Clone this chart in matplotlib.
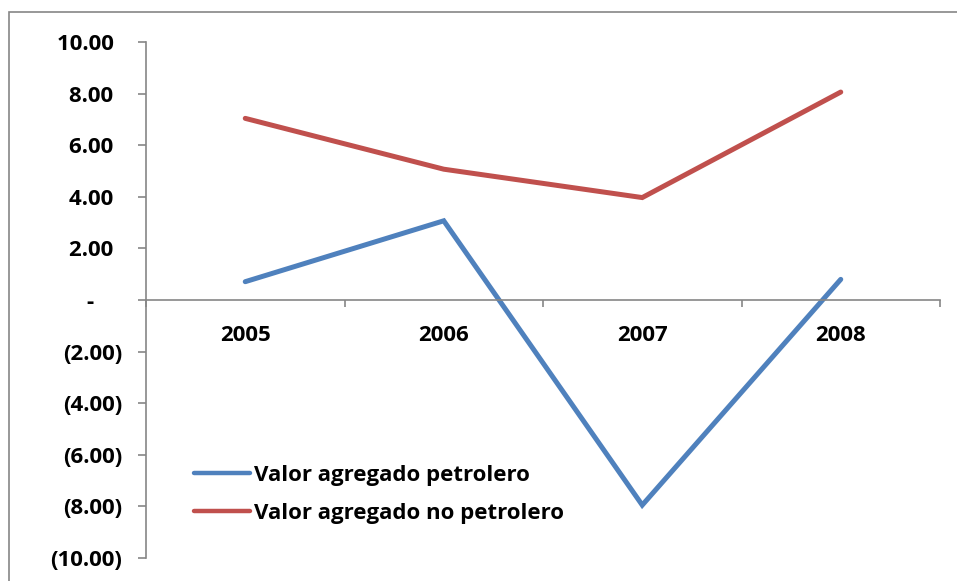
import matplotlib.pyplot as plt
from matplotlib.patches import Rectangle
from matplotlib.ticker import FixedLocator

years = ["2005", "2006", "2007", "2008"]
petrolero = [0.71, 3.07, -7.95, 0.80]
no_petrolero = [7.04, 5.07, 3.97, 8.06]
y_ticks = [10, 8, 6, 4, 2, 0, -2, -4, -6, -8, -10]


def fmt(v):
    # formato contable de Excel
    if v == 0:
        return "-     "
    if v < 0:
        return f"({abs(v):.2f})"
    return f"{v:.2f}\u2009\u2009"


plt.rcParams['font.family'] = ['Open Sans', 'DejaVu Sans']
gray = "#868686"
fs = 16

W, H = 957, 581
fig = plt.figure(figsize=(W / 100, H / 100), dpi=100)
fig.patches.append(Rectangle((9 / W, -0.05), 1.0, 1.05 - 12 / H,
                             transform=fig.transFigure, fill=False,
                             edgecolor=gray, lw=1.2))

ax = fig.add_axes([146 / W, 1 - 558 / H, (940 - 146) / W, (558 - 42) / H])
x = list(range(len(years)))
ax.plot(x, petrolero, color="#4F81BD", lw=3.6, solid_capstyle="round",
        solid_joinstyle="miter", label="Valor agregado petrolero")
ax.plot(x, no_petrolero, color="#C0504D", lw=3.6, solid_capstyle="round",
        solid_joinstyle="miter", label="Valor agregado no petrolero")

ax.set_xlim(-0.5, len(years) - 0.5)
ax.set_ylim(-10, 10)
for s in ["top", "right"]:
    ax.spines[s].set_visible(False)
ax.spines["bottom"].set_position(("data", 0))
for s in ["left", "bottom"]:
    ax.spines[s].set_color(gray)
    ax.spines[s].set_linewidth(1.2)

ax.set_xticks(x)
ax.set_xticklabels(years, fontsize=fs, fontweight="bold")
ax.xaxis.set_minor_locator(FixedLocator([i - 0.5 for i in range(len(years) + 1)]))
ax.tick_params(axis="x", which="major", length=0, pad=18)
ax.tick_params(axis="x", which="minor", length=5, width=1.2, color=gray, direction="out")

ax.set_yticks(y_ticks)
ax.set_yticklabels([fmt(v) for v in y_ticks], fontsize=fs, fontweight="bold")
ax.tick_params(axis="y", length=6, width=1.2, color=gray, direction="out", pad=11)

leg = ax.legend(loc="lower left", bbox_to_anchor=(0.06, 0.066), frameon=False,
                prop={"size": fs, "weight": "bold"}, handlelength=2.55,
                handletextpad=0.15, labelspacing=0.75, borderaxespad=0,
                borderpad=0)
for line in leg.get_lines():
    line.set_linewidth(3.2)

fig.savefig("out.png", dpi=100)
